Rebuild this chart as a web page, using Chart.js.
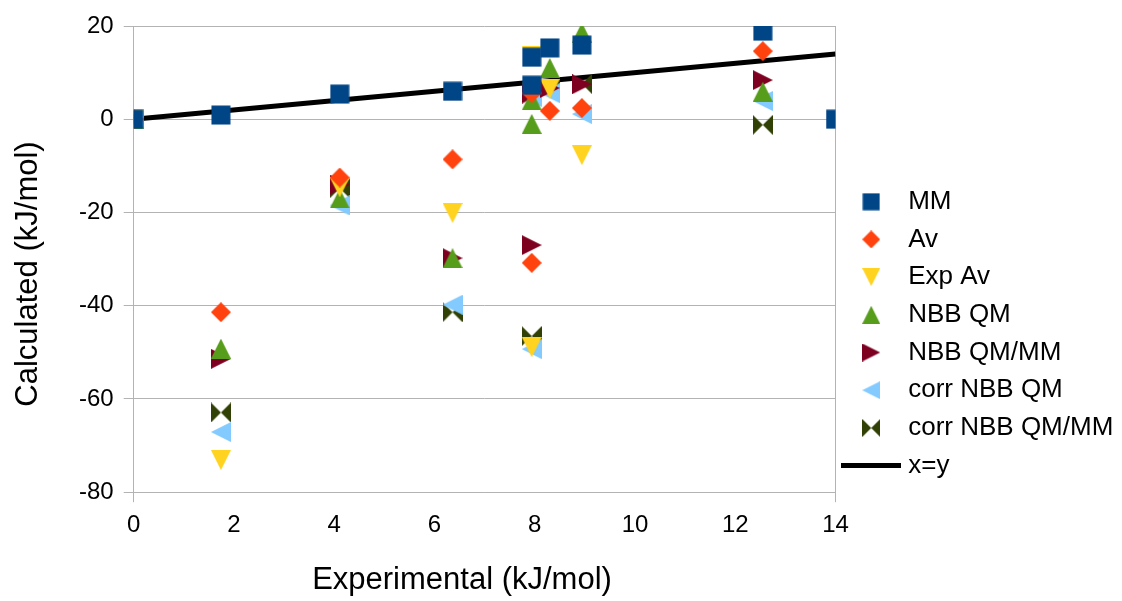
<!DOCTYPE html>
<html>
<head>
<meta charset="utf-8">
<script src="https://cdn.jsdelivr.net/npm/chart.js@4.4.1/dist/chart.umd.min.js"></script>
<style>
  html, body { margin: 0; padding: 0; background: #fff; }
</style>
</head>
<body>
<canvas id="myChart" width="1122" height="601"></canvas>
<script>
// experimental values (x) shared by every series
const experimental = [0, 1.74, 4.11, 6.36, 7.94, 7.94, 8.30, 8.94, 12.55, 14];

// calculated values (y), one list per series
const mm        = [0, 0.9, 5.4, 6.0, 13.3, 7.3, 15.3, 15.9, 18.9, 0];
const av        = [0, -41.4, -12.5, -8.6, 5.6, -30.8, 1.8, 2.4, 14.6, null];
const expAv     = [0, -73.1, -14.6, -20.1, 13.6, -48.9, 6.5, -7.7, 20.2, null];
const nbbQm     = [0, -49.2, -17.0, -29.8, 4.1, -1.0, 11.0, 18.6, 5.9, null];
const nbbQmMm   = [0, -51.4, -14.0, -29.8, 5.5, -27.0, 6.7, 7.5, 8.4, null];
const corrQm    = [0, -67.1, -18.5, -39.8, 4.8, -49.3, 5.6, 1.1, 3.9, null];
const corrQmMm  = [0, -62.9, -14.8, -41.4, 6.0, -46.5, 6.7, 7.6, -1.2, null];

const seriesNames = ["MM", "Av", "Exp Av", "NBB QM", "NBB QM/MM", "corr NBB QM", "corr NBB QM/MM"];
const seriesValues = [mm, av, expAv, nbbQm, nbbQmMm, corrQm, corrQmMm];
const seriesColors = ["#004586", "#ff420e", "#ffd320", "#579d1c", "#7e0021", "#83caff", "#314004"];
const seriesShapes = ["square", "diamond", "down", "up", "right", "left", "bowtie"];

// the x=y reference line
const lineX = [0, 14];
const lineY = [0, 14];

const xTitle = "Experimental (kJ/mol)";
const yTitle = "Calculated (kJ/mol)";

// little canvases used as point symbols (like the office chart markers)
function makeSymbol(shape, color, s) {
    const c = document.createElement('canvas');
    c.width = s;
    c.height = s;
    const g = c.getContext('2d');
    g.fillStyle = color;
    g.beginPath();
    if (shape == "square") {
        g.rect(0.5, 0.5, s - 1, s - 1);
    } else if (shape == "diamond") {
        g.moveTo(s / 2, 0); g.lineTo(s, s / 2); g.lineTo(s / 2, s); g.lineTo(0, s / 2);
    } else if (shape == "down") {
        g.moveTo(0, 0); g.lineTo(s, 0); g.lineTo(s / 2, s);
    } else if (shape == "up") {
        g.moveTo(s / 2, 0); g.lineTo(s, s); g.lineTo(0, s);
    } else if (shape == "right") {
        g.moveTo(0, 0); g.lineTo(s, s / 2); g.lineTo(0, s);
    } else if (shape == "left") {
        g.moveTo(s, 0); g.lineTo(0, s / 2); g.lineTo(s, s);
    } else if (shape == "bowtie") {
        g.moveTo(0, 0); g.lineTo(s / 2, s / 2); g.lineTo(0, s); g.closePath();
        g.moveTo(s, 0); g.lineTo(s / 2, s / 2); g.lineTo(s, s);
    }
    g.closePath();
    g.fill();
    return c;
}

// legend sample for the line
function makeLineSample(w, h) {
    const c = document.createElement('canvas');
    c.width = w;
    c.height = h;
    const g = c.getContext('2d');
    g.fillStyle = "#000000";
    g.fillRect(0, 0, w, h);
    return c;
}

const datasets = seriesNames.map((name, i) => ({
    label: name,
    data: experimental.map((x, j) => ({ x: x, y: seriesValues[i][j] })).filter(p => p.y !== null),
    pointStyle: makeSymbol(seriesShapes[i], seriesColors[i], 20),
    backgroundColor: seriesColors[i],
    borderColor: seriesColors[i],
    pointRadius: 10
}));

datasets.push({
    label: "x=y",
    data: lineX.map((x, j) => ({ x: x, y: lineY[j] })),
    showLine: true,
    borderColor: "#000000",
    backgroundColor: "#000000",
    borderWidth: 5,
    pointRadius: 0
});

const legendSymbols = seriesShapes.map((shape, i) => makeSymbol(shape, seriesColors[i], 18));
legendSymbols.push(makeLineSample(60, 5));

const font = "'Liberation Sans', Arial, sans-serif";
const gridGray = "#b3b3b3";

// let the longest legend label run to the canvas edge instead of being clipped
const legendToEdge = {
    id: 'legendToEdge',
    afterLayout(chart) {
        chart.legend.right = chart.width;
        chart.legend.width = chart.legend.right - chart.legend.left;
    }
};

// axis titles, placed like the office chart does (not centred on the plot area)
const axisTitles = {
    id: 'axisTitles',
    afterDraw(chart) {
        const ctx = chart.ctx;
        ctx.save();
        ctx.fillStyle = '#000';
        ctx.font = "31px " + font;
        ctx.textAlign = 'center';
        ctx.textBaseline = 'middle';
        ctx.fillText(xTitle, 462, 580);
        ctx.translate(28, 274);
        ctx.rotate(-Math.PI / 2);
        ctx.fillText(yTitle, 0, 0);
        ctx.restore();
    }
};

new Chart(document.getElementById('myChart'), {
    type: 'scatter',
    data: { datasets: datasets },
    plugins: [legendToEdge, axisTitles],
    options: {
        responsive: false,
        animation: false,
        layout: { padding: { left: 69, right: 31, top: 26, bottom: 52 } },
        plugins: {
            tooltip: { enabled: false },
            legend: {
                position: 'right',
                align: 'start',
                title: { display: true, text: '', font: { size: 10, lineHeight: 1 }, padding: { top: 141, bottom: 0 } },
                labels: {
                    usePointStyle: true,
                    pointStyleWidth: 48,
                    padding: 11.7,
                    color: '#000',
                    font: { family: font, size: 26 },
                    generateLabels: (chart) => {
                        const items = Chart.defaults.plugins.legend.labels.generateLabels(chart);
                        items.forEach((item, i) => { item.pointStyle = legendSymbols[i]; });
                        return items;
                    }
                }
            }
        },
        scales: {
            x: {
                type: 'linear',
                min: 0,
                max: 14,
                ticks: { stepSize: 2, color: '#000', padding: 9, font: { family: font, size: 24 } },
                grid: {
                    color: (ctx) => (ctx.tick && (ctx.tick.value == 0 || ctx.tick.value == 14)) ? gridGray : 'rgba(0,0,0,0)',
                    tickLength: 10
                },
                border: { display: true, color: gridGray }
            },
            y: {
                type: 'linear',
                min: -80,
                max: 20,
                ticks: { stepSize: 20, color: '#000', padding: 10, font: { family: font, size: 24 } },
                grid: { color: gridGray, tickLength: 10 },
                border: { display: true, color: gridGray }
            }
        }
    }
});
</script>
</body>
</html>
